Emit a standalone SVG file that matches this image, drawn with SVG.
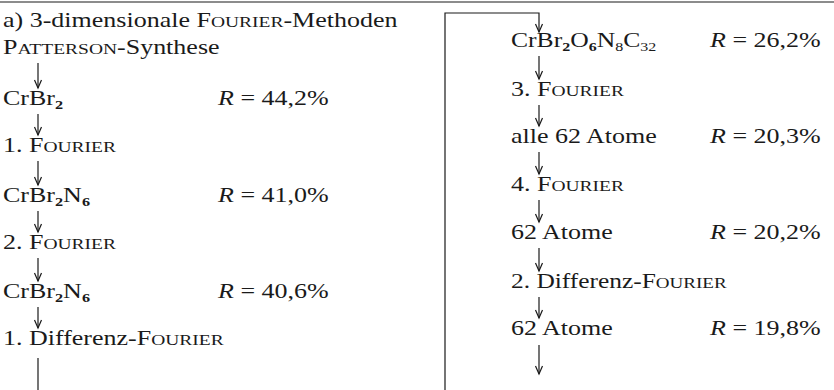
<svg xmlns="http://www.w3.org/2000/svg" width="834" height="390" viewBox="0 0 834 390">
<style>
text { font-family: "Liberation Serif", "Times New Roman", serif; font-size: 20px; fill: #1a1a1a; }
.sc { font-size: 15px; }
.sub { font-size: 12.5px; font-weight: bold; }
.subn { font-size: 12.5px; }
.it { font-style: italic; }
.ln { stroke: #1a1a1a; stroke-width: 1.2; fill: none; }
</style>
<defs>
<marker id="ah" markerUnits="userSpaceOnUse" markerWidth="12" markerHeight="12" viewBox="-9 -6 12 12" refX="0" refY="0" orient="auto" overflow="visible">
<path d="M-8,-3.5 L0,0 L-8,3.5" fill="none" stroke="#1a1a1a" stroke-width="1.2"/>
</marker>
</defs>
<rect width="834" height="390" fill="#fff"/>
<line class="ln" x1="0" y1="2" x2="834" y2="2" stroke-width="1.8"/>
<g id="connectors">
<path class="ln" d="M38,63 V88" marker-end="url(#ah)"/>
<path class="ln" d="M38,114 V135" marker-end="url(#ah)"/>
<path class="ln" d="M38,161 V185" marker-end="url(#ah)"/>
<path class="ln" d="M38,211 V232" marker-end="url(#ah)"/>
<path class="ln" d="M38,258 V281" marker-end="url(#ah)"/>
<path class="ln" d="M38,307 V328" marker-end="url(#ah)"/>
<path class="ln" d="M38,358 V390"/>
<path class="ln" d="M445,390 V13 H539 V32" marker-end="url(#ah)"/>
<path class="ln" d="M539,56 V79" marker-end="url(#ah)"/>
<path class="ln" d="M539,105 V126" marker-end="url(#ah)"/>
<path class="ln" d="M539,152 V174" marker-end="url(#ah)"/>
<path class="ln" d="M539,200 V222" marker-end="url(#ah)"/>
<path class="ln" d="M539,248 V271" marker-end="url(#ah)"/>
<path class="ln" d="M539,297 V318" marker-end="url(#ah)"/>
<path class="ln" d="M539,345 V374" marker-end="url(#ah)"/>
</g>
<g id="title"><text transform="translate(3,27) scale(1.3,1)">a) 3-dimensionale F<tspan class="sc">OURIER</tspan>-Methoden</text></g>
<g id="patterson"><text transform="translate(3,54) scale(1.3,1)">P<tspan class="sc">ATTERSON</tspan>-Synthese</text></g>
<g id="l1"><text transform="translate(3,105) scale(1.3,1)">CrBr<tspan class="sub" dy="4">2</tspan></text><text transform="translate(218,105) scale(1.3,1)"><tspan class="it">R</tspan> = 44,2%</text></g>
<g id="l2"><text transform="translate(3,152) scale(1.3,1)">1. F<tspan class="sc">OURIER</tspan></text></g>
<g id="l3"><text transform="translate(3,202) scale(1.3,1)">CrBr<tspan class="sub" dy="4">2</tspan><tspan dy="-4">N</tspan><tspan class="sub" dy="4">6</tspan></text><text transform="translate(218,202) scale(1.3,1)"><tspan class="it">R</tspan> = 41,0%</text></g>
<g id="l4"><text transform="translate(3,249) scale(1.3,1)">2. F<tspan class="sc">OURIER</tspan></text></g>
<g id="l5"><text transform="translate(3,298) scale(1.3,1)">CrBr<tspan class="sub" dy="4">2</tspan><tspan dy="-4">N</tspan><tspan class="sub" dy="4">6</tspan></text><text transform="translate(218,298) scale(1.3,1)"><tspan class="it">R</tspan> = 40,6%</text></g>
<g id="l6"><text transform="translate(3,345) scale(1.3,1)">1. Differenz-F<tspan class="sc">OURIER</tspan></text></g>
<g id="r1"><text transform="translate(511,47) scale(1.28,1)">CrBr<tspan class="sub" dy="4">2</tspan><tspan dy="-4">O</tspan><tspan class="sub" dy="4">6</tspan><tspan dy="-4">N</tspan><tspan class="subn" dy="4">8</tspan><tspan dy="-4">C</tspan><tspan class="subn" dy="4">32</tspan></text><text transform="translate(710,47) scale(1.3,1)"><tspan class="it">R</tspan> = 26,2%</text></g>
<g id="r2"><text transform="translate(511,96) scale(1.3,1)">3. F<tspan class="sc">OURIER</tspan></text></g>
<g id="r3"><text transform="translate(511,143) scale(1.3,1)">alle 62 Atome</text><text transform="translate(710,143) scale(1.3,1)"><tspan class="it">R</tspan> = 20,3%</text></g>
<g id="r4"><text transform="translate(511,191) scale(1.3,1)">4. F<tspan class="sc">OURIER</tspan></text></g>
<g id="r5"><text transform="translate(511,239) scale(1.3,1)">62 Atome</text><text transform="translate(710,239) scale(1.3,1)"><tspan class="it">R</tspan> = 20,2%</text></g>
<g id="r6"><text transform="translate(511,288) scale(1.27,1)">2. Differenz-F<tspan class="sc">OURIER</tspan></text></g>
<g id="r7"><text transform="translate(511,335) scale(1.3,1)">62 Atome</text><text transform="translate(710,335) scale(1.3,1)"><tspan class="it">R</tspan> = 19,8%</text></g>
</svg>
